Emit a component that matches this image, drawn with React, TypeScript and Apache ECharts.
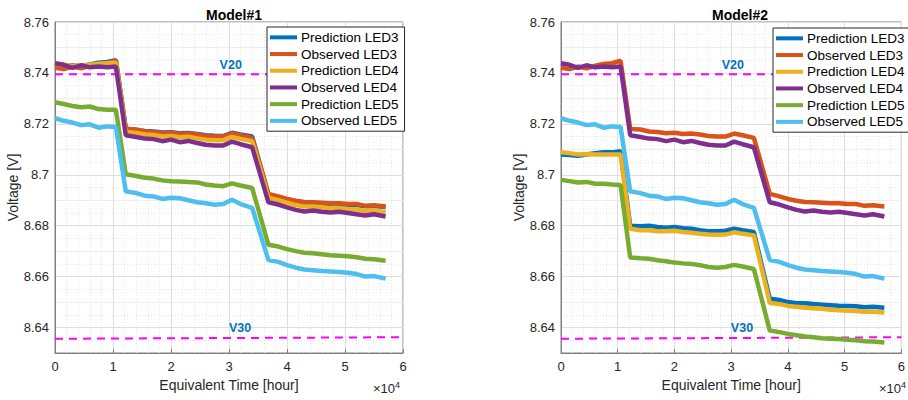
import React, { useEffect, useRef } from "react";
import * as echarts from "echarts";

// Equivalent time [hour]
const HOURS = [0, 1500, 3000, 4500, 6000, 7500, 9000, 10500, 12200, 14000, 15500, 17000, 18500, 20000, 21500, 23000, 24500, 26000, 27500, 29000, 30500, 32000, 34000, 36800, 38500, 40000, 41500, 43000, 44500, 46000, 47500, 49000, 50500, 52000, 53500, 55000, 57000];

// Observed voltages (shared by both models)
const OBS_LED3 = [8.7420, 8.7415, 8.7425, 8.7418, 8.7428, 8.7435, 8.7438, 8.7448, 8.7180, 8.7178, 8.7170, 8.7168, 8.7163, 8.7165, 8.7160, 8.7162, 8.7158, 8.7152, 8.7150, 8.7150, 8.7162, 8.7155, 8.7145, 8.6925, 8.6915, 8.6905, 8.6898, 8.6893, 8.6892, 8.6890, 8.6888, 8.6888, 8.6885, 8.6885, 8.6878, 8.6880, 8.6875];
const OBS_LED4 = [8.7438, 8.7432, 8.7420, 8.7430, 8.7422, 8.7425, 8.7422, 8.7425, 8.7155, 8.7148, 8.7142, 8.7140, 8.7132, 8.7138, 8.7128, 8.7133, 8.7125, 8.7118, 8.7115, 8.7115, 8.7130, 8.7120, 8.7108, 8.6892, 8.6883, 8.6872, 8.6862, 8.6856, 8.6860, 8.6855, 8.6852, 8.6855, 8.6850, 8.6845, 8.6840, 8.6845, 8.6836];
const OBS_LED5 = [8.7222, 8.7212, 8.7205, 8.7195, 8.7198, 8.7185, 8.7190, 8.7188, 8.6935, 8.6928, 8.6918, 8.6915, 8.6905, 8.6910, 8.6908, 8.6900, 8.6892, 8.6888, 8.6882, 8.6885, 8.6902, 8.6885, 8.6870, 8.6665, 8.6658, 8.6645, 8.6635, 8.6628, 8.6625, 8.6622, 8.6620, 8.6618, 8.6615, 8.6610, 8.6600, 8.6602, 8.6592];

// Model#1 predictions
const M1_PRED_LED3 = [8.7432, 8.7428, 8.7430, 8.7426, 8.7433, 8.7440, 8.7443, 8.7450, 8.7182, 8.7176, 8.7172, 8.7170, 8.7166, 8.7167, 8.7163, 8.7164, 8.7160, 8.7155, 8.7153, 8.7152, 8.7165, 8.7158, 8.7150, 8.6922, 8.6913, 8.6903, 8.6896, 8.6890, 8.6889, 8.6887, 8.6885, 8.6884, 8.6882, 8.6881, 8.6876, 8.6877, 8.6873];
const M1_PRED_LED4 = [8.7436, 8.7432, 8.7428, 8.7430, 8.7432, 8.7436, 8.7438, 8.7440, 8.7168, 8.7164, 8.7158, 8.7156, 8.7150, 8.7152, 8.7147, 8.7149, 8.7143, 8.7138, 8.7136, 8.7136, 8.7149, 8.7141, 8.7132, 8.6910, 8.6900, 8.6890, 8.6881, 8.6875, 8.6875, 8.6872, 8.6869, 8.6869, 8.6866, 8.6864, 8.6858, 8.6860, 8.6853];
const M1_PRED_LED5 = [8.7285, 8.7278, 8.7270, 8.7265, 8.7268, 8.7258, 8.7255, 8.7255, 8.7002, 8.6995, 8.6988, 8.6985, 8.6978, 8.6975, 8.6974, 8.6972, 8.6970, 8.6962, 8.6958, 8.6955, 8.6966, 8.6958, 8.6948, 8.6725, 8.6718, 8.6708, 8.6700, 8.6694, 8.6692, 8.6688, 8.6684, 8.6682, 8.6680, 8.6676, 8.6670, 8.6668, 8.6662];

// Model#2 predictions
const M2_PRED_LED3 = [8.7080, 8.7078, 8.7075, 8.7080, 8.7085, 8.7088, 8.7088, 8.7092, 8.6800, 8.6798, 8.6800, 8.6795, 8.6792, 8.6795, 8.6790, 8.6788, 8.6782, 8.6778, 8.6778, 8.6780, 8.6788, 8.6782, 8.6775, 8.6513, 8.6508, 8.6500, 8.6495, 8.6495, 8.6492, 8.6490, 8.6488, 8.6486, 8.6485, 8.6484, 8.6480, 8.6482, 8.6478];
const M2_PRED_LED4 = [8.7088, 8.7085, 8.7080, 8.7082, 8.7080, 8.7080, 8.7080, 8.7080, 8.6788, 8.6782, 8.6782, 8.6778, 8.6778, 8.6780, 8.6775, 8.6772, 8.6768, 8.6765, 8.6764, 8.6765, 8.6774, 8.6768, 8.6762, 8.6496, 8.6492, 8.6485, 8.6482, 8.6478, 8.6476, 8.6474, 8.6470, 8.6468, 8.6466, 8.6465, 8.6462, 8.6462, 8.6459];
const M2_PRED_LED5 = [8.6980, 8.6975, 8.6970, 8.6972, 8.6965, 8.6965, 8.6962, 8.6960, 8.6675, 8.6672, 8.6670, 8.6664, 8.6660, 8.6655, 8.6652, 8.6650, 8.6645, 8.6638, 8.6635, 8.6638, 8.6646, 8.6640, 8.6630, 8.6388, 8.6382, 8.6375, 8.6370, 8.6365, 8.6362, 8.6358, 8.6356, 8.6355, 8.6352, 8.6350, 8.6346, 8.6345, 8.6341];

// Threshold lines
const V20_HOURS = [0, 30300, 60000];
const V20_VALUES = [8.7395, 8.7395, 8.7395];
const V30_HOURS = [0, 31900, 60000];
const V30_VALUES = [8.6356, 8.6359, 8.6362];

const SERIES_NAMES = ["Prediction LED3", "Observed LED3", "Prediction LED4", "Observed LED4", "Prediction LED5", "Observed LED5"];
const SERIES_COLORS = ["#0072BD", "#D95319", "#EDB120", "#7E2F8E", "#77AC30", "#4DBEEE"];
const TITLES = ["Model#1", "Model#2"];
const X_TICK_LABELS = ["0", "1", "2", "3", "4", "5", "6"];

const FONT = "'Liberation Sans', Arial, Helvetica, sans-serif";
const TEXT = "#262626";
const AXIS = "#808080";

export default function App() {
  const ref = useRef<HTMLDivElement>(null);
  useEffect(() => {
    if (!ref.current) return;
    const chart = echarts.init(ref.current, undefined, { renderer: "svg" });
    const zip = (xs: number[], ys: number[]) => xs.map((x, i) => [x, ys[i]]);
    const panels = [
      [M1_PRED_LED3, OBS_LED3, M1_PRED_LED4, OBS_LED4, M1_PRED_LED5, OBS_LED5],
      [M2_PRED_LED3, OBS_LED3, M2_PRED_LED4, OBS_LED4, M2_PRED_LED5, OBS_LED5],
    ];
    const lefts = [55, 561];
    const grids = lefts.map((l) => ({
      left: l, top: 22, width: 348, height: 331,
      show: true, borderColor: AXIS, borderWidth: 1, backgroundColor: "transparent",
    }));
    const xAxes = lefts.map((_, gi) => ({
      type: "value", gridIndex: gi, min: 0, max: 60000, interval: 10000,
      name: "Equivalent Time [hour]", nameLocation: "middle", nameGap: 24,
      nameTextStyle: { fontSize: 14, color: TEXT, fontFamily: FONT },
      axisLine: { show: true, lineStyle: { color: AXIS } },
      axisTick: { show: true, inside: true, length: 4, lineStyle: { color: AXIS } },
      axisLabel: { fontSize: 13, color: TEXT, fontFamily: FONT, margin: 7,
        formatter: (v: number) => X_TICK_LABELS[Math.round(v / 10000)] ?? "" },
      splitLine: { show: true, lineStyle: { color: "#dedede", width: 1 } },
      minorTick: { show: false, splitNumber: 5 },
      minorSplitLine: { show: true, lineStyle: { color: "#e6e6e6", type: [1, 2], width: 1 } },
    }));
    const yAxes = lefts.map((_, gi) => ({
      type: "value", gridIndex: gi, min: 8.63, max: 8.76, interval: 0.01,
      name: "Voltage [V]", nameLocation: "middle", nameGap: 33,
      nameTextStyle: { fontSize: 14, color: TEXT, fontFamily: FONT },
      axisLine: { show: true, lineStyle: { color: AXIS } },
      axisTick: { show: false },
      axisLabel: { fontSize: 13, color: TEXT, fontFamily: FONT, margin: 6,
        formatter: (v: number) => {
          const k = Math.round(v * 100);
          return k % 2 === 0 ? String(k / 100) : "";
        } },
      splitLine: { show: true, lineStyle: { color: ["#eeeeee", "#dedede"], width: 1 } },
      minorTick: { show: false, splitNumber: 2 },
      minorSplitLine: { show: true, lineStyle: { color: "#e6e6e6", type: [1, 2], width: 1 } },
    }));
    const series: any[] = [];
    panels.forEach((set, gi) => {
      const vLabel = (txt: string) => ({
        show: true, formatter: txt, position: "top", distance: 3,
        color: "#0072BD", fontWeight: "bold", fontSize: 12.5, fontFamily: FONT,
      });
      const mk = (xs: number[], ys: number[], txt: string) => ({
        type: "line", xAxisIndex: gi, yAxisIndex: gi, name: txt,
        data: xs.map((x, i) => i === 1
          ? { value: [x, ys[i]], label: vLabel(txt) }
          : { value: [x, ys[i]] }),
        showSymbol: true, symbol: "circle", symbolSize: 0,
        lineStyle: { color: "#FF00FF", width: 2, type: [8, 6] },
        itemStyle: { color: "#FF00FF" },
        silent: true, z: 1,
      });
      series.push(mk(V20_HOURS, V20_VALUES, "V20"));
      series.push(mk(V30_HOURS, V30_VALUES, "V30"));
      set.forEach((ys, si) => {
        series.push({
          type: "line", xAxisIndex: gi, yAxisIndex: gi,
          name: SERIES_NAMES[si], data: zip(HOURS, ys),
          showSymbol: false, symbol: "none",
          lineStyle: { color: SERIES_COLORS[si], width: 4.5 },
          itemStyle: { color: SERIES_COLORS[si] },
          z: 2,
        });
      });
    });
    const legendTops = [27, 28];
    const legendLefts = [267, 773];
    const legends = lefts.map((_, gi) => ({
      data: SERIES_NAMES, orient: "vertical", left: legendLefts[gi], top: legendTops[gi],
      icon: "rect", itemWidth: 27, itemHeight: 4, itemGap: 0,
      padding: [2, 6, 2, 3], borderColor: "#262626", borderWidth: 1, backgroundColor: "#ffffff",
      textStyle: { fontSize: 13.5, color: "#000", fontFamily: FONT, lineHeight: 16.7, padding: [0, 0, 0, -1] },
      selectedMode: false, z: 10,
    }));
    chart.setOption({
      animation: false,
      backgroundColor: "#ffffff",
      title: TITLES.map((t, gi) => ({
        text: t, left: lefts[gi] + 174, top: 3, textAlign: "center",
        textStyle: { fontSize: 14, fontWeight: "bold", color: "#000", fontFamily: FONT },
      })),
      legend: legends,
      grid: grids,
      xAxis: xAxes,
      yAxis: yAxes,
      series,
      graphic: lefts.map((l) => ({
        type: "text", left: l + 318, top: 380,
        style: {
          text: "{a|×10}{b|4}",
          rich: {
            a: { fontSize: 13, fill: TEXT, fontFamily: FONT },
            b: { fontSize: 9, fill: TEXT, fontFamily: FONT, verticalAlign: "top", padding: [0, 0, 8, 0] },
          },
        },
      })),
    });
    return () => chart.dispose();
  }, []);
  return <div ref={ref} style={{ position: "fixed", left: 0, top: 0, width: 908, height: 400, background: "#fff" }} />;
}
